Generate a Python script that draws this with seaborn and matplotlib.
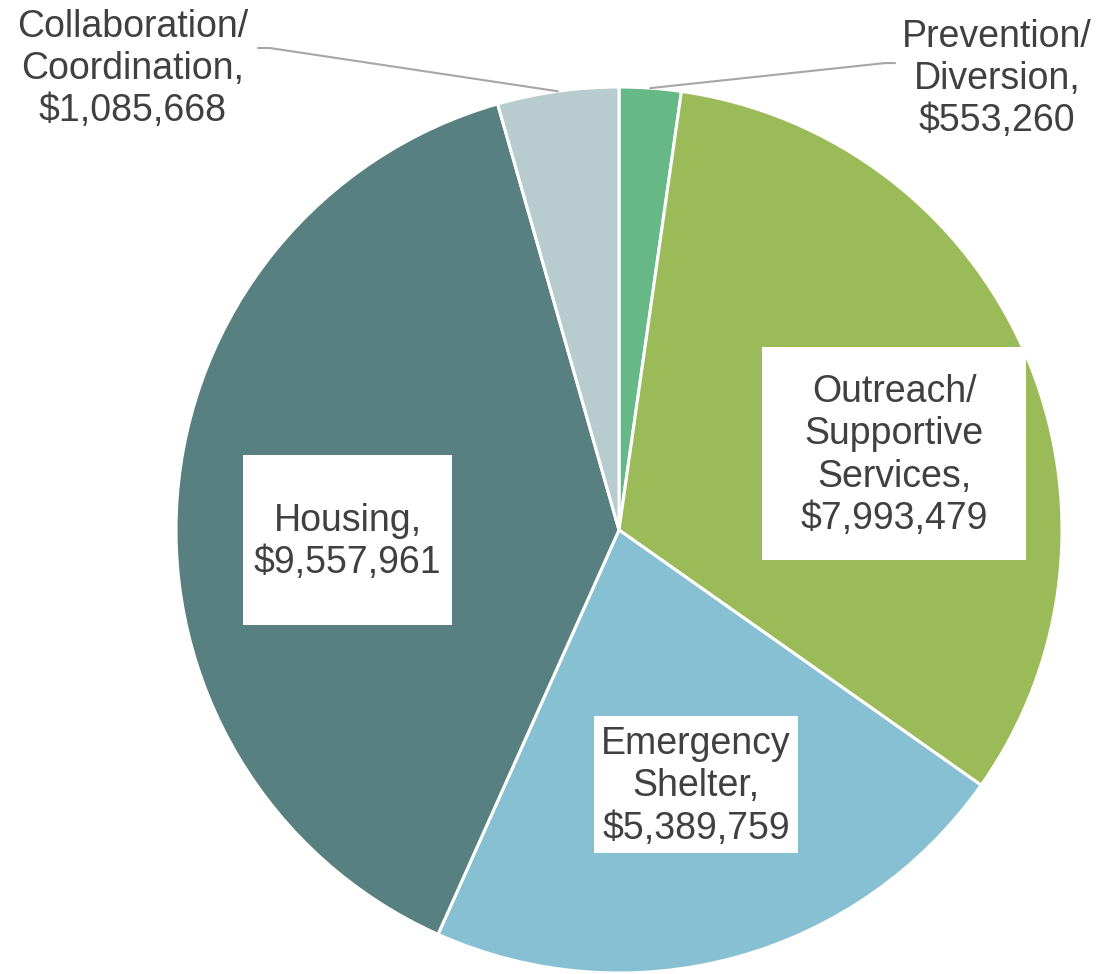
import numpy as np
import matplotlib
matplotlib.use('Agg')
import matplotlib.pyplot as plt
import seaborn as sns
from matplotlib.patches import Rectangle

# Data (clockwise from 12 o'clock)
categories = ['Prevention/\nDiversion', 'Outreach/\nSupportive\nServices',
              'Emergency\nShelter', 'Housing', 'Collaboration/\nCoordination']
amounts = [553260, 7993479, 5389759, 9557961, 1085668]
colors = ['#67B887', '#9BBB59', '#86C0D2', '#598080', '#B8CBCE']

sns.set_theme(style='white')
plt.rcParams['font.family'] = ['Liberation Sans', 'DejaVu Sans']

fig = plt.figure(figsize=(11.07, 9.74), dpi=100)
ax = fig.add_axes([176 / 1107, 1 / 974, 886 / 1107, 886 / 974])

wedges, _ = ax.pie(amounts, colors=colors, startangle=90, counterclock=False,
                   wedgeprops=dict(edgecolor='white', linewidth=2.2))
ax.set_xlim(-1, 1)
ax.set_ylim(-1, 1)
ax.set_aspect('equal')

text_color = '#404040'
fs = 27
ls = 1.22

labels = [f'{c},\n${v:,.0f}' for c, v in zip(categories, amounts)]

# inside labels with white boxes: (center x, center y, box w, box h)
inside = {
    1: (0.621, 0.173, 0.596, 0.481),
    2: (0.174, -0.574, 0.460, 0.309),
    3: (-0.613, -0.023, 0.472, 0.384),
}
for i, (cx, cy, w, h) in inside.items():
    ax.add_patch(Rectangle((cx - w / 2, cy - h / 2), w, h, facecolor='white',
                           edgecolor='none', zorder=3))
    ax.text(cx, cy - 0.005, labels[i], ha='center', va='center', fontsize=fs,
            color=text_color, zorder=4, linespacing=ls)

# outside labels with leader lines: (text x, text y, elbow x, end x, end y)
outside = {
    0: (0.853, 1.018, 0.600, 0.623, 1.054),
    4: (-1.097, 1.040, -0.788, -0.815, 1.088),
}
for i, (tx, ty, ex, endx, endy) in outside.items():
    w = wedges[i]
    mid = np.deg2rad((w.theta1 + w.theta2) / 2)
    sx, sy = np.cos(mid) * 1.0, np.sin(mid) * 1.0
    ax.plot([sx, ex, endx], [sy, endy, endy], color='#A6A6A6', lw=1.5,
            clip_on=False, zorder=2)
    ax.text(tx, ty, labels[i], ha='center', va='center', fontsize=fs,
            color=text_color, clip_on=False, linespacing=ls)

fig.savefig('out.png', dpi=100)
